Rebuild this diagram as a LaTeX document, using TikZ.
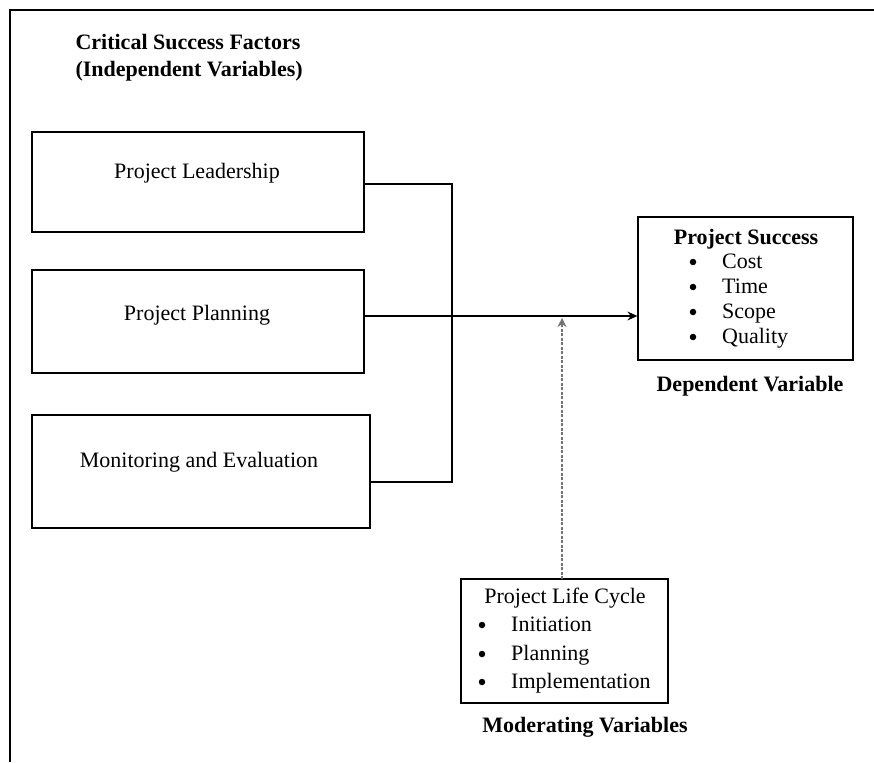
\documentclass[tikz,border=0pt]{standalone}
\usepackage{fontspec}
\setmainfont{Liberation Serif}
\usetikzlibrary{positioning,arrows.meta}

\tikzset{
    varbox/.style={draw, line width=1.3pt, rectangle, inner sep=0pt},
    boxtext/.style={font=\fontsize{22}{25}\selectfont},
    heading/.style={font=\fontsize{22}{27}\selectfont\bfseries},
    listdot/.style={circle, fill, inner sep=0pt, minimum size=6.5pt},
    listitem/.style={font=\fontsize{22}{25}\selectfont, anchor=west, inner sep=0pt, text height=15pt, text depth=5pt},
    link/.style={line width=1.2pt}
}

\begin{document}
\begin{tikzpicture}[x=1pt, y=-1pt]
                \useasboundingbox (0,0) rectangle (874,762);
                \draw[line width=2.4pt] (874,10) -- (10,10) -- (10,762);
                \node[heading, align=left, anchor=west] (cfs) at (72,58) {Critical Success Factors\\(Independent Variables)};
                \node[varbox, minimum width=332pt, minimum height=100pt] (lead) at (198,182) {};
                \node[varbox, minimum width=332pt, minimum height=103pt] (plan) at (198,321.5) {};
                \node[varbox, minimum width=338pt, minimum height=113pt] (mon) at (201,471.5) {};
                \node[boxtext] (leadtxt) at (197,173) {Project Leadership};
                \node[boxtext] (plantxt) at (197,315) {Project Planning};
                \node[boxtext] (montxt) at (199,462) {Monitoring and Evaluation};
                \node[varbox, minimum width=215pt, minimum height=143pt] (succ) at (745.5,288.5) {};
                \node[heading] (succtitle) at (746,239) {Project Success};
                \foreach \txt [count=\i] in {Cost,Time,Scope,Quality} {
                    \node[listdot] (sdot\i) at (693,237+25*\i) {};
                    \node[listitem] (sitem\i) at (722,238+25*\i) {\txt};
                }
                \node[heading] (dep) at (750,386) {Dependent Variable};
                \node[varbox, minimum width=207pt, minimum height=124pt] (cycle) at (564.5,641) {};
                \node[boxtext] (cycletitle) at (565,598) {Project Life Cycle};
                \foreach \txt/\y [count=\i] in {Initiation/626,Planning/655,Implementation/683} {
                    \node[listdot] (cdot\i) at (482,\y-1) {};
                    \node[listitem] (citem\i) at (511,\y) {\txt};
                }
                \node[heading] (mod) at (585,727) {Moderating Variables};
                \coordinate (spine) at (452,316);
                \draw[link] ([yshift=-2pt]lead.east) -| (spine) |- ([yshift=-10.5pt]mon.east);
                \draw[link, -{Stealth[length=10pt, width=9pt, inset=3.5pt]}] (plan.east |- spine) -- (spine -| succ.west);
                \draw[line width=2.6pt, black!55, dash pattern=on 3pt off 1.5pt, -{Stealth[length=9pt, width=9pt, inset=3pt]}] (562,579) -- (562,318);
            \end{tikzpicture}
\end{document}
